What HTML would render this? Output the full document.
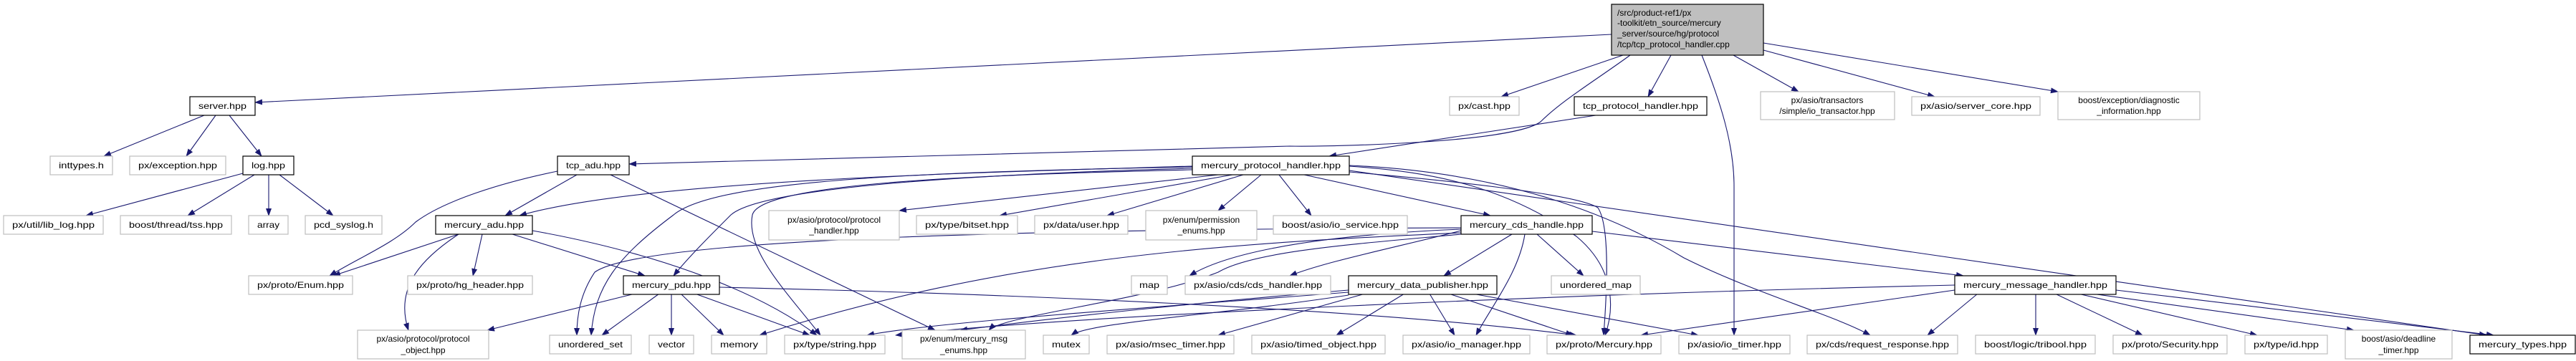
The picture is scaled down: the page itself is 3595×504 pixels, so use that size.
<!DOCTYPE html>
<html><head><meta charset="utf-8"><style>
html,body{margin:0;padding:0;background:#fff;}
svg{display:block;}
text{font-family:"Liberation Sans",sans-serif;font-size:12px;fill:#000;}
.g{fill:#fff;stroke:#bfbfbf;stroke-width:1.2;}
.b{fill:#fff;stroke:#000;stroke-width:1.2;}
.e{fill:none;stroke:#191970;stroke-width:1.1;marker-end:url(#a);}
</style></head><body>
<svg width="3595" height="504" viewBox="0 0 3595 504" xmlns="http://www.w3.org/2000/svg">
<defs><marker id="a" markerUnits="userSpaceOnUse" markerWidth="11" markerHeight="8" refX="10" refY="4" orient="auto"><path d="M0,0 L11,4 L0,8 z" fill="#191970"/></marker></defs>

<!-- edges -->
<g>
<path class="e" d="M2249,48 L356,143"/>
<path class="e" d="M2265,77 L2095,135"/>
<path class="e" d="M2275,77 C2230,110 2180,140 2150,170 C2110,200 1850,205 1800,204 L878,229"/>
<path class="e" d="M2332,77 L2300,135"/>
<path class="e" d="M2375,77 C2400,140 2420,200 2420,260 L2420,468"/>
<path class="e" d="M2419,77 L2510,128"/>
<path class="e" d="M2461,70 L2700,135"/>
<path class="e" d="M2461,60 L2872,128"/>
<path class="e" d="M285,161 L145,218"/>
<path class="e" d="M301,161 L260,218"/>
<path class="e" d="M320,161 L365,218"/>
<path class="e" d="M339,242 L120,301"/>
<path class="e" d="M355,244 L262,301"/>
<path class="e" d="M375,244 L375,301"/>
<path class="e" d="M390,244 L465,301"/>
<path class="e" d="M2227,161 L1855,218"/>
<path class="e" d="M805,244 L705,301"/>
<path class="e" d="M778,239 C700,255 620,280 580,310 C550,340 500,360 460,385"/>
<path class="e" d="M852,244 L1305,461"/>
<path class="e" d="M1664,232 C1400,240 900,250 725,301"/>
<path class="e" d="M1700,244 L1255,294"/>
<path class="e" d="M1720,244 L1395,301"/>
<path class="e" d="M1735,244 L1545,301"/>
<path class="e" d="M1760,244 L1700,294"/>
<path class="e" d="M1785,244 L1830,301"/>
<path class="e" d="M1820,244 L2080,301"/>
<path class="e" d="M1664,235 C1300,245 1060,265 1020,300 C990,330 960,360 940,385"/>
<path class="e" d="M1664,233 C1300,240 1000,250 940,300 C860,360 830,400 825,468"/>
<path class="e" d="M1664,237 C1300,245 1060,260 1050,300 C1040,350 1100,410 1145,468"/>
<path class="e" d="M1883,232 C2000,240 2100,260 2200,330 C2260,380 2250,440 2240,468"/>
<path class="e" d="M1883,240 C2000,250 2200,270 2230,290 C2250,320 2240,440 2238,468"/>
<path class="e" d="M1883,231 C2100,240 2250,300 2350,360 C2450,410 2560,440 2610,468"/>
<path class="e" d="M1883,238 L3470,468"/>
<path class="e" d="M640,327 L465,385"/>
<path class="e" d="M640,327 C590,360 550,400 570,461"/>
<path class="e" d="M673,327 L660,385"/>
<path class="e" d="M715,327 L900,385"/>
<path class="e" d="M743,322 C900,350 1050,400 1140,468"/>
<path class="e" d="M886,410 L680,461"/>
<path class="e" d="M920,410 L840,468"/>
<path class="e" d="M937,410 L937,468"/>
<path class="e" d="M950,410 L1010,468"/>
<path class="e" d="M970,410 L1130,468"/>
<path class="e" d="M1004,401 C1400,410 1900,430 2200,468"/>
<path class="e" d="M2039,318 C1500,320 900,330 830,380 C810,410 805,440 805,468"/>
<path class="e" d="M2039,320 C1800,330 1700,360 1660,385"/>
<path class="e" d="M2039,322 C1950,345 1850,365 1800,385"/>
<path class="e" d="M2039,325 C1700,340 1400,360 1060,468"/>
<path class="e" d="M2039,327 C1900,340 1750,350 1700,380 C1600,420 1400,440 1380,461"/>
<path class="e" d="M2110,327 L2015,385"/>
<path class="e" d="M2145,327 L2210,385"/>
<path class="e" d="M2128,327 C2120,380 2080,430 2060,468"/>
<path class="e" d="M2222,323 L2740,385"/>
<path class="e" d="M1905,410 L1700,468"/>
<path class="e" d="M1960,410 L1865,468"/>
<path class="e" d="M1995,410 L2030,468"/>
<path class="e" d="M2022,410 L2195,468"/>
<path class="e" d="M2055,410 L2370,468"/>
<path class="e" d="M1882,405 C1700,420 1500,440 1340,461"/>
<path class="e" d="M1882,408 C1600,430 1300,450 1210,468"/>
<path class="e" d="M1882,412 C1700,440 1520,450 1495,468"/>
<path class="e" d="M2728,398 C2200,410 1500,440 1250,468"/>
<path class="e" d="M2728,405 L2290,468"/>
<path class="e" d="M2760,410 L2690,468"/>
<path class="e" d="M2841,410 L2841,468"/>
<path class="e" d="M2868,410 L2990,468"/>
<path class="e" d="M2900,410 L3150,468"/>
<path class="e" d="M2920,410 L3285,461"/>
<path class="e" d="M2953,405 L3480,468"/>
</g>

<!-- nodes -->
<rect x="2249" y="6" width="212" height="71" fill="#bfbfbf" stroke="#000" stroke-width="1.2"/>
<text x="2257" y="22">/src/product-ref1/px</text>
<text x="2257" y="36">-toolkit/etn_source/mercury</text>
<text x="2257" y="51">_server/source/hg/protocol</text>
<text x="2257" y="66">/tcp/tcp_protocol_handler.cpp</text>

<g text-anchor="middle">
<rect class="b" x="265" y="135" width="91" height="26"/><text x="310.5" y="152" textLength="67" lengthAdjust="spacingAndGlyphs">server.hpp</text>
<rect class="g" x="2023" y="135" width="97" height="26"/><text x="2071.5" y="152" textLength="73" lengthAdjust="spacingAndGlyphs">px/cast.hpp</text>
<rect class="b" x="2197" y="135" width="185" height="26"/><text x="2289.5" y="152" textLength="161" lengthAdjust="spacingAndGlyphs">tcp_protocol_handler.hpp</text>
<rect class="g" x="2457" y="128" width="187" height="39"/><text x="2550" y="144">px/asio/transactors</text><text x="2550" y="159">/simple/io_transactor.hpp</text>
<rect class="g" x="2668" y="135" width="179" height="26"/><text x="2757.5" y="152" textLength="155" lengthAdjust="spacingAndGlyphs">px/asio/server_core.hpp</text>
<rect class="g" x="2872" y="128" width="198" height="39"/><text x="2971" y="144">boost/exception/diagnostic</text><text x="2971" y="159">_information.hpp</text>

<rect class="g" x="70" y="218" width="87" height="26"/><text x="113.5" y="235" textLength="63" lengthAdjust="spacingAndGlyphs">inttypes.h</text>
<rect class="g" x="181" y="218" width="134" height="26"/><text x="248" y="235" textLength="110" lengthAdjust="spacingAndGlyphs">px/exception.hpp</text>
<rect class="b" x="339" y="218" width="71" height="26"/><text x="374.5" y="235" textLength="47" lengthAdjust="spacingAndGlyphs">log.hpp</text>
<rect class="b" x="778" y="218" width="100" height="26"/><text x="828" y="235" textLength="76" lengthAdjust="spacingAndGlyphs">tcp_adu.hpp</text>
<rect class="b" x="1664" y="218" width="219" height="26"/><text x="1773.5" y="235" textLength="195" lengthAdjust="spacingAndGlyphs">mercury_protocol_handler.hpp</text>

<rect class="g" x="5" y="301" width="139" height="26"/><text x="74.5" y="318" textLength="115" lengthAdjust="spacingAndGlyphs">px/util/lib_log.hpp</text>
<rect class="g" x="168" y="301" width="155" height="26"/><text x="245.5" y="318" textLength="131" lengthAdjust="spacingAndGlyphs">boost/thread/tss.hpp</text>
<rect class="g" x="347" y="301" width="55" height="26"/><text x="374.5" y="318" textLength="31" lengthAdjust="spacingAndGlyphs">array</text>
<rect class="g" x="426" y="301" width="107" height="26"/><text x="479.5" y="318" textLength="83" lengthAdjust="spacingAndGlyphs">pcd_syslog.h</text>
<rect class="b" x="608" y="301" width="135" height="26"/><text x="675.5" y="318" textLength="111" lengthAdjust="spacingAndGlyphs">mercury_adu.hpp</text>
<rect class="g" x="1073" y="294" width="182" height="41"/><text x="1164" y="311">px/asio/protocol/protocol</text><text x="1164" y="326">_handler.hpp</text>
<rect class="g" x="1279" y="301" width="141" height="26"/><text x="1349.5" y="318" textLength="117" lengthAdjust="spacingAndGlyphs">px/type/bitset.hpp</text>
<rect class="g" x="1444" y="301" width="130" height="26"/><text x="1509" y="318" textLength="106" lengthAdjust="spacingAndGlyphs">px/data/user.hpp</text>
<rect class="g" x="1599" y="294" width="155" height="41"/><text x="1676.5" y="311">px/enum/permission</text><text x="1676.5" y="326">_enums.hpp</text>
<rect class="g" x="1777" y="301" width="187" height="26"/><text x="1870.5" y="318" textLength="163" lengthAdjust="spacingAndGlyphs">boost/asio/io_service.hpp</text>
<rect class="b" x="2039" y="301" width="183" height="26"/><text x="2130.5" y="318" textLength="159" lengthAdjust="spacingAndGlyphs">mercury_cds_handle.hpp</text>

<rect class="g" x="347" y="385" width="145" height="26"/><text x="419.5" y="402" textLength="121" lengthAdjust="spacingAndGlyphs">px/proto/Enum.hpp</text>
<rect class="g" x="569" y="385" width="174" height="26"/><text x="656" y="402" textLength="150" lengthAdjust="spacingAndGlyphs">px/proto/hg_header.hpp</text>
<rect class="b" x="870" y="385" width="134" height="26"/><text x="937" y="402" textLength="110" lengthAdjust="spacingAndGlyphs">mercury_pdu.hpp</text>
<rect class="g" x="1579" y="385" width="50" height="26"/><text x="1604" y="402" textLength="28" lengthAdjust="spacingAndGlyphs">map</text>
<rect class="g" x="1654" y="385" width="203" height="26"/><text x="1755.5" y="402" textLength="179" lengthAdjust="spacingAndGlyphs">px/asio/cds/cds_handler.hpp</text>
<rect class="b" x="1882" y="385" width="207" height="26"/><text x="1985.5" y="402" textLength="183" lengthAdjust="spacingAndGlyphs">mercury_data_publisher.hpp</text>
<rect class="g" x="2165" y="385" width="124" height="26"/><text x="2227" y="402" textLength="100" lengthAdjust="spacingAndGlyphs">unordered_map</text>
<rect class="b" x="2728" y="385" width="225" height="26"/><text x="2840.5" y="402" textLength="201" lengthAdjust="spacingAndGlyphs">mercury_message_handler.hpp</text>

<rect class="g" x="499" y="461" width="183" height="40"/><text x="590.5" y="477">px/asio/protocol/protocol</text><text x="590.5" y="493">_object.hpp</text>
<rect class="g" x="767" y="468" width="114" height="26"/><text x="824" y="485" textLength="90" lengthAdjust="spacingAndGlyphs">unordered_set</text>
<rect class="g" x="906" y="468" width="62" height="26"/><text x="937" y="485" textLength="38" lengthAdjust="spacingAndGlyphs">vector</text>
<rect class="g" x="993" y="468" width="77" height="26"/><text x="1031.5" y="485" textLength="53" lengthAdjust="spacingAndGlyphs">memory</text>
<rect class="g" x="1095" y="468" width="140" height="26"/><text x="1165" y="485" textLength="116" lengthAdjust="spacingAndGlyphs">px/type/string.hpp</text>
<rect class="g" x="1259" y="461" width="172" height="40"/><text x="1345" y="477">px/enum/mercury_msg</text><text x="1345" y="493">_enums.hpp</text>
<rect class="g" x="1456" y="468" width="64" height="26"/><text x="1488" y="485" textLength="40" lengthAdjust="spacingAndGlyphs">mutex</text>
<rect class="g" x="1545" y="468" width="177" height="26"/><text x="1633.5" y="485" textLength="153" lengthAdjust="spacingAndGlyphs">px/asio/msec_timer.hpp</text>
<rect class="g" x="1747" y="468" width="186" height="26"/><text x="1840" y="485" textLength="162" lengthAdjust="spacingAndGlyphs">px/asio/timed_object.hpp</text>
<rect class="g" x="1958" y="468" width="177" height="26"/><text x="2046.5" y="485" textLength="153" lengthAdjust="spacingAndGlyphs">px/asio/io_manager.hpp</text>
<rect class="g" x="2159" y="468" width="159" height="26"/><text x="2238.5" y="485" textLength="135" lengthAdjust="spacingAndGlyphs">px/proto/Mercury.hpp</text>
<rect class="g" x="2343" y="468" width="155" height="26"/><text x="2420.5" y="485" textLength="131" lengthAdjust="spacingAndGlyphs">px/asio/io_timer.hpp</text>
<rect class="g" x="2522" y="468" width="210" height="26"/><text x="2627" y="485" textLength="186" lengthAdjust="spacingAndGlyphs">px/cds/request_response.hpp</text>
<rect class="g" x="2757" y="468" width="167" height="26"/><text x="2840.5" y="485" textLength="143" lengthAdjust="spacingAndGlyphs">boost/logic/tribool.hpp</text>
<rect class="g" x="2949" y="468" width="159" height="26"/><text x="3028.5" y="485" textLength="135" lengthAdjust="spacingAndGlyphs">px/proto/Security.hpp</text>
<rect class="g" x="3133" y="468" width="115" height="26"/><text x="3190.5" y="485" textLength="91" lengthAdjust="spacingAndGlyphs">px/type/id.hpp</text>
<rect class="g" x="3273" y="461" width="149" height="40"/><text x="3347.5" y="477">boost/asio/deadline</text><text x="3347.5" y="493">_timer.hpp</text>
<rect class="b" x="3447" y="468" width="147" height="26"/><text x="3520.5" y="485" textLength="123" lengthAdjust="spacingAndGlyphs">mercury_types.hpp</text>
</g>
</svg>
</body></html>
